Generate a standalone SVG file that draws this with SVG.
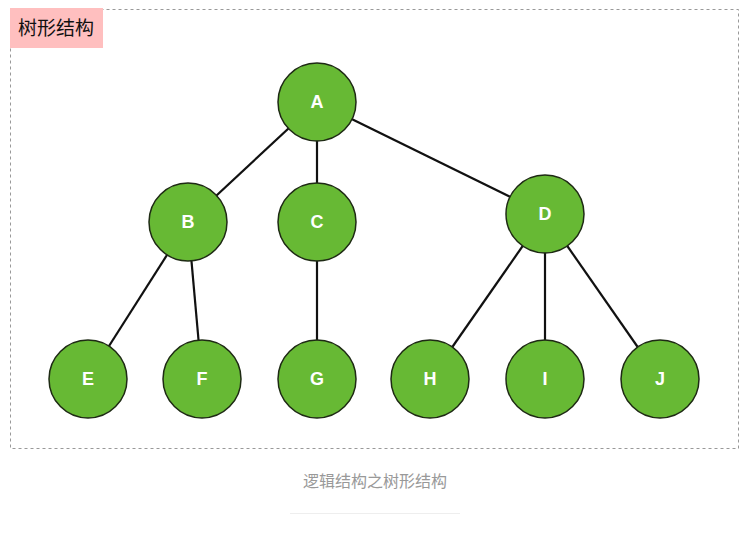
<svg xmlns="http://www.w3.org/2000/svg" width="745" height="535" viewBox="0 0 745 535">
<style>
.node circle{fill:#67b934;stroke:#1e2a14;stroke-width:1.5}
.node text{font-family:"Liberation Sans",Arial,sans-serif;font-weight:bold;font-size:18px;fill:#fff;text-anchor:middle;dominant-baseline:central}
.edge{stroke:#111;stroke-width:2.2}
</style>
<rect x="10.5" y="9.5" width="728" height="439" fill="none" stroke="#999" stroke-width="1" stroke-dasharray="3,3"/>
<g id="title">
<rect x="10" y="8" width="93" height="40" fill="#ffbfbf"/>
<text x="56" y="35" font-family="'Noto Sans CJK SC',sans-serif" font-size="19" fill="#111" text-anchor="middle">树形结构</text>
</g>
<g id="connectors">
<line class="edge" x1="317" y1="102" x2="188" y2="222"/>
<line class="edge" x1="317" y1="102" x2="317" y2="222"/>
<line class="edge" x1="317" y1="102" x2="545" y2="214"/>
<line class="edge" x1="188" y1="222" x2="88" y2="379"/>
<line class="edge" x1="188" y1="222" x2="202" y2="379"/>
<line class="edge" x1="317" y1="222" x2="317" y2="379"/>
<line class="edge" x1="545" y1="214" x2="430" y2="379"/>
<line class="edge" x1="545" y1="214" x2="545" y2="379"/>
<line class="edge" x1="545" y1="214" x2="660" y2="379"/>
</g>
<g id="A" class="node"><circle cx="317" cy="102" r="39"/><text x="317" y="102">A</text></g>
<g id="B" class="node"><circle cx="188" cy="222" r="39"/><text x="188" y="222">B</text></g>
<g id="C" class="node"><circle cx="317" cy="222" r="39"/><text x="317" y="222">C</text></g>
<g id="D" class="node"><circle cx="545" cy="214" r="39"/><text x="545" y="214">D</text></g>
<g id="E" class="node"><circle cx="88" cy="379" r="39"/><text x="88" y="379">E</text></g>
<g id="F" class="node"><circle cx="202" cy="379" r="39"/><text x="202" y="379">F</text></g>
<g id="G" class="node"><circle cx="317" cy="379" r="39"/><text x="317" y="379">G</text></g>
<g id="H" class="node"><circle cx="430" cy="379" r="39"/><text x="430" y="379">H</text></g>
<g id="I" class="node"><circle cx="545" cy="379" r="39"/><text x="545" y="379">I</text></g>
<g id="J" class="node"><circle cx="660" cy="379" r="39"/><text x="660" y="379">J</text></g>
<text x="375" y="487" font-family="'Noto Sans CJK SC',sans-serif" font-size="16" fill="#999" text-anchor="middle">逻辑结构之树形结构</text>
<line x1="290" y1="513.5" x2="460" y2="513.5" stroke="#eee" stroke-width="1"/>
</svg>
